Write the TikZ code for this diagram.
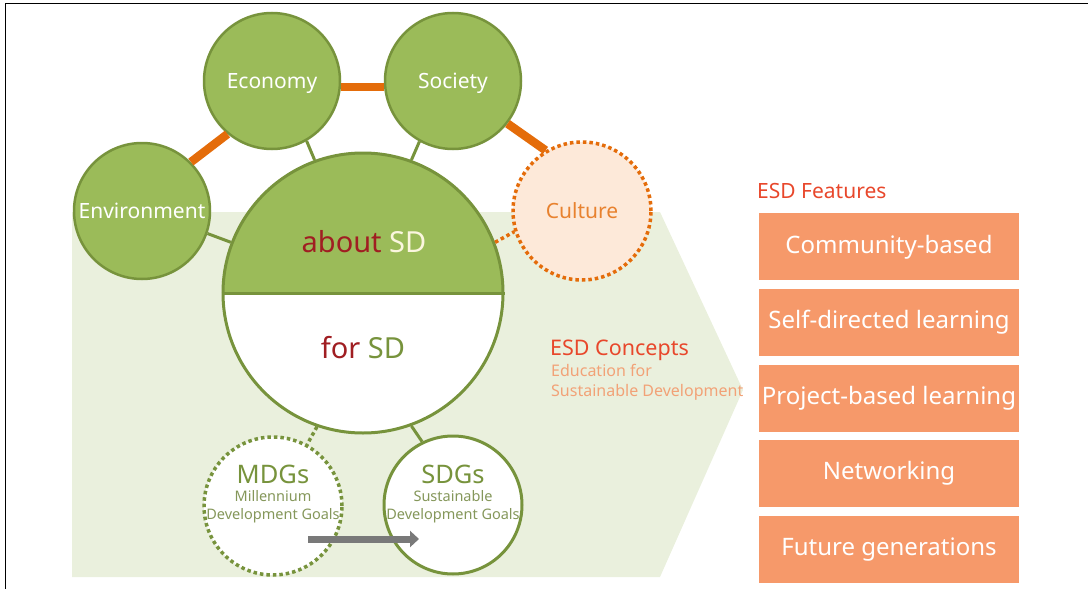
\documentclass[tikz,border=0pt]{standalone}
\usepackage{fontspec}
\setmainfont{Noto Sans}
\usetikzlibrary{arrows.meta}

\definecolor{sdgreen}{HTML}{9BBB59}
\definecolor{sdolive}{HTML}{77933C}
\definecolor{sdpale}{HTML}{EAF0DD}
\definecolor{sdorange}{HTML}{E46C0A}
\definecolor{sdpeach}{HTML}{FDE9D9}
\definecolor{sdred}{HTML}{A01E22}
\definecolor{sdcream}{HTML}{FBF6DF}
\definecolor{esdred}{HTML}{E8472B}
\definecolor{esdlight}{HTML}{F2A277}
\definecolor{esdbox}{HTML}{F6996A}
\definecolor{goalgray}{HTML}{85975A}

\tikzset{
	pillar/.style={circle, draw=sdolive, line width=2.5pt, fill=sdgreen,
		minimum size=136pt, inner sep=0pt, text=white, text height=15pt, text depth=0pt,
		font=\fontsize{21}{24}\selectfont},
	goal/.style={circle, draw=sdolive, line width=3pt, fill=white,
		minimum size=138pt, inner sep=0pt},
	goalname/.style={text=sdolive, font=\fontsize{25.5}{28}\selectfont, inner sep=0pt},
	goalnote/.style={text=goalgray, align=center, inner sep=0pt,
		font=\fontsize{14.5}{18}\selectfont},
	ringlink/.style={draw=sdorange, line width=8.5pt},
	corelink/.style={draw=sdolive, line width=3pt},
	dots/.style={line width=3.5pt, dash pattern=on 3.5pt off 3pt},
	feature/.style={fill=esdbox, minimum width=260pt, minimum height=67pt,
		inner sep=0pt, text=white, text height=17pt, text depth=4pt,
		font=\fontsize{24}{28}\selectfont},
}

\begin{document}
\begin{tikzpicture}[x=1pt,y=-1pt]
	\useasboundingbox (0,0) rectangle (1088,589);

	% frame
	\draw[line width=1.3pt] (5.5,589) -- (5.5,3.5) -- (1088,3.5);

	% pale arrow behind the circles
	\fill[sdpale] (72,212) -- (660,212) -- (743,390) -- (660,577) -- (72,577) -- cycle;

	%% Pillars %%
	\node[pillar] (econ) at (272,81) {Economy};
	\node[pillar] (soc) at (453,81) {Society};
	\node[pillar] (env) at (142,211) {Environment};
	\node[pillar, draw=sdorange, fill=sdpeach, dots, minimum size=138pt,
		text=sdorange!85!white] (cult) at (582,211) {Culture};

	% ring between the pillars
	\draw[ringlink] (env.45) -- (econ.230);
	\draw[ringlink] (econ.-5) -- (soc.185);
	\draw[ringlink] (soc.-38) -- (cult.121);

	%% about / for SD %%
	\node[circle, draw=sdolive, line width=3pt, fill=white, minimum size=280pt, inner sep=0pt,
		path picture={\fill[sdgreen] (path picture bounding box.north west)
			rectangle (path picture bounding box.east);}] (core) at (363,293) {};
	\draw[corelink] (core.west) -- (core.east);
	\node[text=sdred, font=\fontsize{29}{32}\selectfont] (about) at (364,242)
		{about \textcolor{sdcream}{SD}};
	\node[text=sdred, font=\fontsize{29}{32}\selectfont] (for) at (363,348)
		{for \textcolor{sdolive}{SD}};

	% links to the core
	\draw[corelink] (core.110) -- (econ.-60);
	\draw[corelink] (core.70) -- (soc.-119);
	\draw[corelink] (core.159) -- (env.-19);
	\draw[draw=sdorange, dots] (core.21) -- (cult.197);

	%% MDGs -> SDGs %%
	\node[goal, dots] (mdg) at (273,506) {};
	\node[goal] (sdg) at (453,505) {};
	\draw[corelink, dots] (core.251) -- (mdg.61);
	\draw[corelink] (core.290) -- (sdg.116);

	\node[goalname] (mdgname) at (273,474) {MDGs};
	\node[goalnote] (mdgnote) at (273,507) {Millennium\\Development Goals};
	\node[goalname] (sdgname) at (453,474) {SDGs};
	\node[goalnote] (sdgnote) at (453,507) {Sustainable\\Development Goals};

	\coordinate (shiftstart) at (308,539);
	\coordinate (shiftend) at (419,539);
	\draw[draw=gray!95!black, line width=7pt, -{Triangle[length=9pt,width=16pt]}]
		(shiftstart) -- (shiftend);

	%% ESD concepts %%
	\node[anchor=west, inner sep=0pt, text=esdred, font=\fontsize{21.5}{24}\selectfont]
		(concepts) at (550,350) {ESD Concepts};
	\node[anchor=north west, inner sep=0pt, align=left, text=esdlight,
		font=\fontsize{16}{20}\selectfont] (conceptsnote) at (551,364)
		{Education for\\Sustainable Development};

	%% ESD features %%
	\node[anchor=west, inner sep=0pt, text=esdred, font=\fontsize{21}{24}\selectfont]
		(features) at (757,191) {ESD Features};
	\node[feature] (f1) at (889,246.5) {Community-based};
	\node[feature] (f2) at (889,322) {Self-directed learning};
	\node[feature] (f3) at (889,398) {Project-based learning};
	\node[feature] (f4) at (889,473) {Networking};
	\node[feature] (f5) at (889,549) {Future generations};
\end{tikzpicture}
\end{document}
